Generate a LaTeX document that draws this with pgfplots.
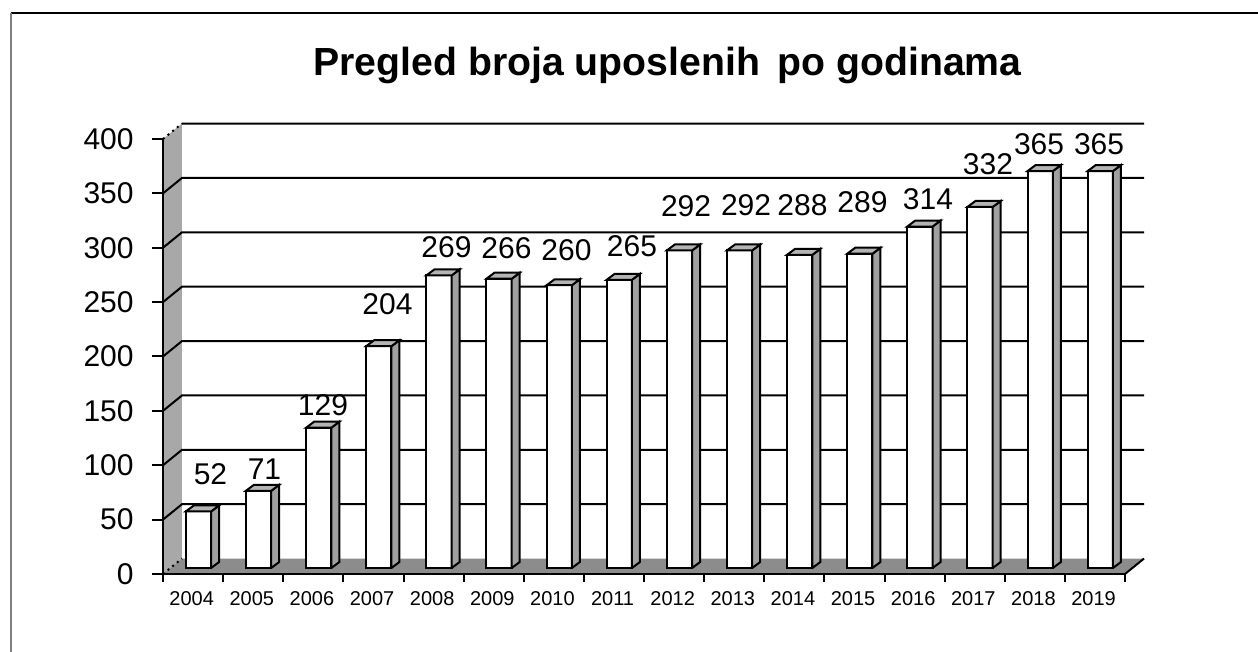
\documentclass[border=0pt]{standalone}
\usepackage{pgfplots}
\pgfplotsset{compat=1.18}
\usepackage{fontspec}
\setmainfont{Liberation Sans}
\definecolor{sidegray}{HTML}{A0A0A0}
\definecolor{topgray}{HTML}{B4B4B4}
\definecolor{floorgray}{HTML}{8C8C8C}
\definecolor{wallgray}{HTML}{A8A8A8}
\definecolor{framegray}{HTML}{7F7F7F}
\begin{document}
\begin{tikzpicture}
\useasboundingbox (-81.5pt,-39pt) rectangle (547.5pt,287pt);
\begin{axis}[
  at={(0,0)}, anchor=south west,
  scale only axis, width=481pt, height=217.5pt,
  xmin=-0.5, xmax=15.5, ymin=0, ymax=400,
  clip=false, axis on top,
  axis x line*=bottom, axis y line*=left,
  axis line style={line width=1pt, black},
  xtick={0,...,15},
  xticklabels={2004,2005,2006,2007,2008,2009,2010,2011,2012,2013,2014,2015,2016,2017,2018,2019},
  major x tick style={draw=none},
  minor xtick={-0.5,0.5,...,15.5},
  minor tick length=4pt,
  ytick={0,50,...,400},
  major tick length=5.5pt,
  tick align=outside,
  tick style={line width=1pt, black},
  /pgf/number format/assume math mode=true,
  xticklabel style={font=\fontsize{10}{12}\selectfont, inner sep=0pt, anchor=north, yshift=-3pt, xshift=-0.7pt},
  yticklabel style={font=\fontsize{15}{18}\selectfont, inner sep=0pt, anchor=east, xshift=-9pt},
  title={Pregled broja uposlenih\hspace{0.45em}po godinama},
  title style={at={(axis description cs:0.5244,1)}, anchor=base, yshift=25.5pt, inner sep=0pt,
    font=\bfseries\fontsize{19.6}{22}\selectfont},
  unbounded coords=jump,
]
% left wall
\addplot[draw=none, fill=wallgray] coordinates {(-0.5,0) (-0.184,14.2) (-0.184,414.2) (-0.5,400) (-0.5,0)};
% floor
\addplot[draw=none, fill=floorgray] coordinates {(-0.5,0) (15.5,0) (15.816,14.2) (-0.184,14.2) (-0.5,0)};
\addplot[black, line width=1pt] coordinates {(15.5,0) (15.816,14.2)};
% grid lines
\addplot[black, line width=1pt] coordinates {
 (-0.5,50) (-0.184,64.2) (15.816,64.2) (0,nan)
 (-0.5,100) (-0.184,114.2) (15.816,114.2) (0,nan)
 (-0.5,150) (-0.184,164.2) (15.816,164.2) (0,nan)
 (-0.5,200) (-0.184,214.2) (15.816,214.2) (0,nan)
 (-0.5,250) (-0.184,264.2) (15.816,264.2) (0,nan)
 (-0.5,300) (-0.184,314.2) (15.816,314.2) (0,nan)
 (-0.5,350) (-0.184,364.2) (15.816,364.2) (0,nan)
 (-0.184,414.2) (15.816,414.2)
};
\addplot[black, line width=1pt, dotted] coordinates {(-0.5,400) (-0.184,414.2) (0,nan) (-0.5,0) (-0.184,14.2)};
% bars: front faces
\addplot[ybar, bar width=0.42, bar shift=0.09, fill=white, draw=black, line width=1pt, yshift=3pt] coordinates {
 (0,52) (1,71) (2,129) (3,204) (4,269) (5,266) (6,260) (7,265)
 (8,292) (9,292) (10,288) (11,289) (12,314) (13,332) (14,365) (15,365)
};
% side faces
\addplot[fill=sidegray, draw=black, line width=1pt, yshift=3pt] coordinates {
 (0.30,0) (0.433,5.5) (0.433,57.5) (0.30,52) (0.30,0) (0,nan)
 (1.30,0) (1.433,5.5) (1.433,76.5) (1.30,71) (1.30,0) (0,nan)
 (2.30,0) (2.433,5.5) (2.433,134.5) (2.30,129) (2.30,0) (0,nan)
 (3.30,0) (3.433,5.5) (3.433,209.5) (3.30,204) (3.30,0) (0,nan)
 (4.30,0) (4.433,5.5) (4.433,274.5) (4.30,269) (4.30,0) (0,nan)
 (5.30,0) (5.433,5.5) (5.433,271.5) (5.30,266) (5.30,0) (0,nan)
 (6.30,0) (6.433,5.5) (6.433,265.5) (6.30,260) (6.30,0) (0,nan)
 (7.30,0) (7.433,5.5) (7.433,270.5) (7.30,265) (7.30,0) (0,nan)
 (8.30,0) (8.433,5.5) (8.433,297.5) (8.30,292) (8.30,0) (0,nan)
 (9.30,0) (9.433,5.5) (9.433,297.5) (9.30,292) (9.30,0) (0,nan)
 (10.30,0) (10.433,5.5) (10.433,293.5) (10.30,288) (10.30,0) (0,nan)
 (11.30,0) (11.433,5.5) (11.433,294.5) (11.30,289) (11.30,0) (0,nan)
 (12.30,0) (12.433,5.5) (12.433,319.5) (12.30,314) (12.30,0) (0,nan)
 (13.30,0) (13.433,5.5) (13.433,337.5) (13.30,332) (13.30,0) (0,nan)
 (14.30,0) (14.433,5.5) (14.433,370.5) (14.30,365) (14.30,0) (0,nan)
 (15.30,0) (15.433,5.5) (15.433,370.5) (15.30,365) (15.30,0)
};
% top faces
\addplot[fill=topgray, draw=black, line width=1pt, yshift=3pt] coordinates {
 (0.30,52) (-0.12,52) (0.013,57.5) (0.433,57.5) (0.30,52) (0,nan)
 (1.30,71) (0.88,71) (1.013,76.5) (1.433,76.5) (1.30,71) (0,nan)
 (2.30,129) (1.88,129) (2.013,134.5) (2.433,134.5) (2.30,129) (0,nan)
 (3.30,204) (2.88,204) (3.013,209.5) (3.433,209.5) (3.30,204) (0,nan)
 (4.30,269) (3.88,269) (4.013,274.5) (4.433,274.5) (4.30,269) (0,nan)
 (5.30,266) (4.88,266) (5.013,271.5) (5.433,271.5) (5.30,266) (0,nan)
 (6.30,260) (5.88,260) (6.013,265.5) (6.433,265.5) (6.30,260) (0,nan)
 (7.30,265) (6.88,265) (7.013,270.5) (7.433,270.5) (7.30,265) (0,nan)
 (8.30,292) (7.88,292) (8.013,297.5) (8.433,297.5) (8.30,292) (0,nan)
 (9.30,292) (8.88,292) (9.013,297.5) (9.433,297.5) (9.30,292) (0,nan)
 (10.30,288) (9.88,288) (10.013,293.5) (10.433,293.5) (10.30,288) (0,nan)
 (11.30,289) (10.88,289) (11.013,294.5) (11.433,294.5) (11.30,289) (0,nan)
 (12.30,314) (11.88,314) (12.013,319.5) (12.433,319.5) (12.30,314) (0,nan)
 (13.30,332) (12.88,332) (13.013,337.5) (13.433,337.5) (13.30,332) (0,nan)
 (14.30,365) (13.88,365) (14.013,370.5) (14.433,370.5) (14.30,365) (0,nan)
 (15.30,365) (14.88,365) (15.013,370.5) (15.433,370.5) (15.30,365)
};
% value labels
\addplot[draw=none, mark=none,
  point meta=explicit symbolic, nodes near coords,
  nodes near coords style={inner sep=0pt, font=\fontsize{15}{18}\selectfont, text=black}]
  table[meta=lab] {
x y lab
0.290 81.8 52
1.188 86.4 71
2.161 145.3 129
3.234 238.2 204
4.215 290.6 269
5.213 289.7 266
6.211 287.8 260
7.300 291.5 265
8.199 328.3 292
9.197 329.2 292
10.136 329.2 288
11.134 332.0 289
12.223 334.7 314
13.221 366.9 332
14.070 385.3 365
15.068 385.3 365
};
\end{axis}
\draw[line width=1pt, black] (-76pt,280.3pt) -- (560pt,280.3pt);
\draw[line width=1pt, framegray] (-76pt,280.3pt) -- (-76pt,-50pt);
\end{tikzpicture}
\end{document}
